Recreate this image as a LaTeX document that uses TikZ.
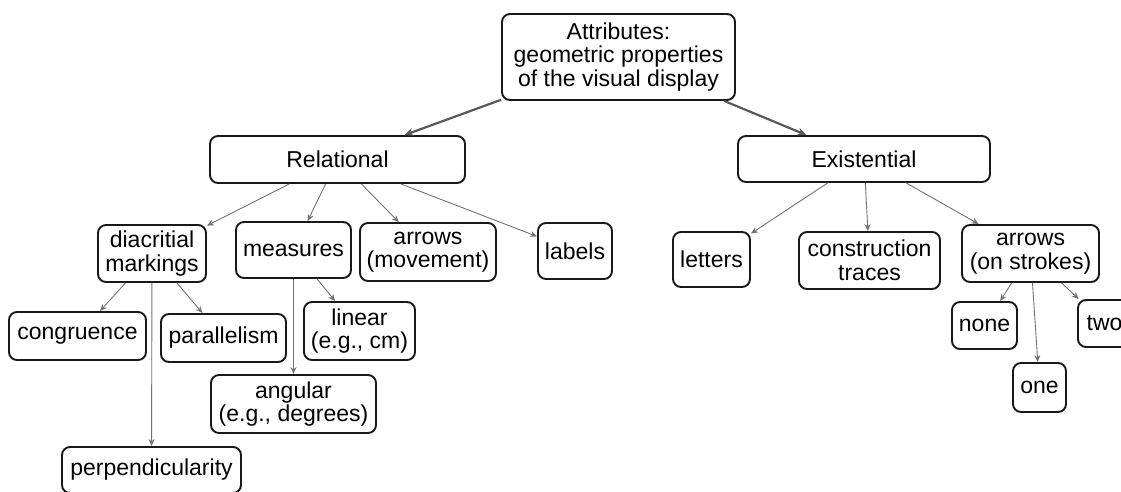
\documentclass[tikz,border=0pt]{standalone}
\usepackage{fontspec}
\setmainfont{Liberation Sans}
\usetikzlibrary{arrows.meta}
\begin{document}
\begin{tikzpicture}[x=1pt,y=-1pt,
  box/.style={draw=black!90, line width=1.9pt, rounded corners=8pt, fill=white,
    align=center, inner sep=0pt, font=\fontsize{23}{23.5}\selectfont},
  link/.style={draw=black!55, line width=0.9pt, -{Stealth[length=7pt,width=6pt]}},
  mainlink/.style={draw=black!65, line width=2.2pt, -{Stealth[length=9pt,width=8pt]}}]
\useasboundingbox (0,0) rectangle (1121,491);
\node[box, minimum width=233pt, minimum height=86pt] (attr) at (618.5,57) {Attributes:\\geometric properties\\of the visual display};
\node[box, minimum width=255pt, minimum height=47pt] (rel) at (337.5,159.5) {Relational};
\node[box, minimum width=252pt, minimum height=46pt] (exi) at (864,159) {Existential};
\node[box, minimum width=108pt, minimum height=57pt] (diac) at (152,253.5) {diacritial\\markings};
\node[box, minimum width=115pt, minimum height=56pt] (meas) at (293.5,250) {measures};
\node[box, minimum width=136pt, minimum height=58pt] (arrm) at (428,252) {arrows\\(movement)};
\node[box, minimum width=74pt, minimum height=56pt] (lab) at (575,251) {labels};
\node[box, minimum width=137pt, minimum height=48pt] (cong) at (77.5,336) {congruence};
\node[box, minimum width=125pt, minimum height=48pt] (para) at (223.5,338) {parallelism};
\node[box, minimum width=111pt, minimum height=58pt] (lin) at (359.5,331) {linear\\(e.g., cm)};
\node[box, minimum width=165pt, minimum height=58pt] (ang) at (293.5,404) {angular\\(e.g., degrees)};
\node[box, minimum width=179pt, minimum height=46pt] (perp) at (151.5,470) {perpendicularity};
\node[box, minimum width=77pt, minimum height=55pt] (let) at (711.5,259.5) {letters};
\node[box, minimum width=141pt, minimum height=57pt] (cons) at (869.5,260.5) {construction\\traces};
\node[box, minimum width=137pt, minimum height=57pt] (arrs) at (1030.5,253.5) {arrows\\(on strokes)};
\node[box, minimum width=65pt, minimum height=47pt] (none) at (984.5,325.5) {none};
\node[box, minimum width=53pt, minimum height=49pt] (one) at (1039.5,387.5) {one};
\node[box, minimum width=53pt, minimum height=47pt] (two) at (1104.5,323.5) {two};
\draw[mainlink] (attr) -- (rel);
\draw[mainlink] (attr) -- (exi);
\draw[link] (rel) -- (diac);
\draw[link] (rel) -- (meas);
\draw[link] (rel) -- (arrm);
\draw[link] (rel) -- (lab);
\draw[link] (exi) -- (let);
\draw[link] (exi) -- (cons);
\draw[link] (exi) -- (arrs);
\draw[link] (diac) -- (cong);
\draw[link] (diac) -- (perp);
\draw[link] (diac) -- (para);
\draw[link] (meas) -- (ang);
\draw[link] (meas) -- (lin);
\draw[link] (arrs) -- (none);
\draw[link] (arrs) -- (one);
\draw[link] (arrs) -- (two);
\end{tikzpicture}
\end{document}
